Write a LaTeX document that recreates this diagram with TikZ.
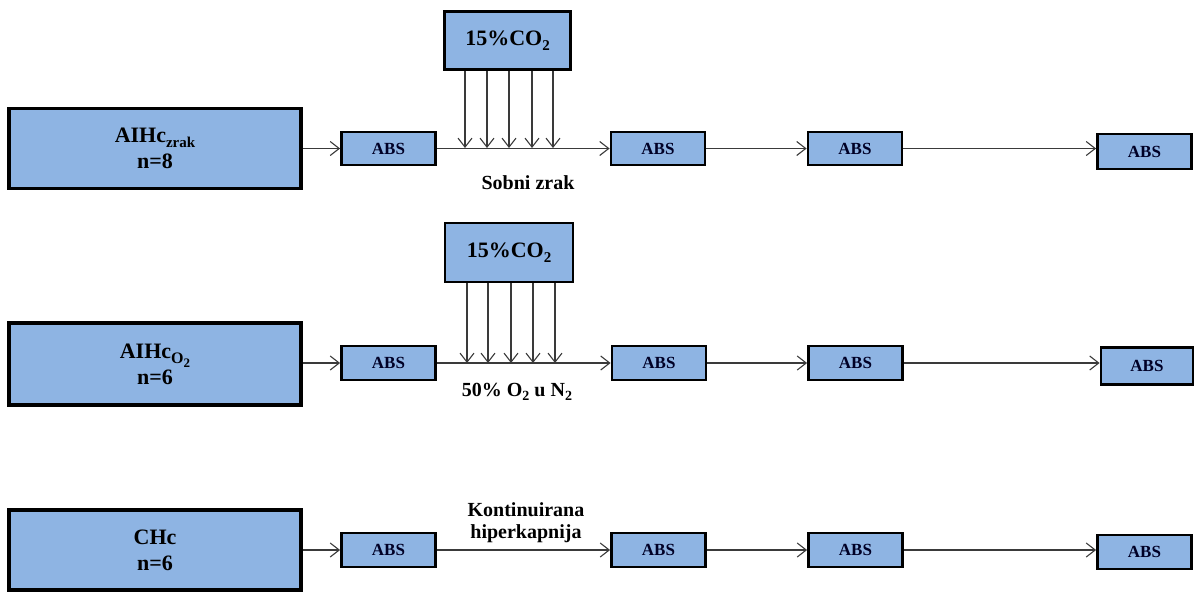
\documentclass[tikz,border=0pt]{standalone}
\usepackage{fontspec}
\setmainfont{Liberation Serif}
\usetikzlibrary{arrows.meta}
\definecolor{boxblue}{HTML}{8EB4E3}
\definecolor{linegray}{HTML}{3A3A3A}
\newcommand\lowsub[3]{\raisebox{-#1pt}{\fontsize{#2}{#2}\selectfont #3}}
\tikzset{
  bigbox/.style={draw=black,line width=3.2pt,fill=boxblue,minimum width=292pt,minimum height=80pt,inner sep=0pt,align=center,font=\fontsize{22}{26}\selectfont\bfseries},
  absbox/.style={draw=black,line width=2.8pt,fill=boxblue,minimum width=94pt,minimum height=33pt,inner sep=0pt,font=\fontsize{17}{19}\selectfont\bfseries,text=black!85!blue},
  gasbox/.style={draw=black,line width=2.8pt,fill=boxblue,minimum width=126pt,minimum height=58pt,inner sep=0pt,font=\fontsize{22}{25}\selectfont\bfseries},
  conn/.style={draw=linegray,line width=1.1pt,-{Straight Barb[length=9pt,width=14pt,line width=1.1pt]}},
  lbl/.style={font=\fontsize{20}{22}\selectfont\bfseries,align=center,inner sep=0pt}
}
\begin{document}
\begin{tikzpicture}[x=1pt,y=-1pt]
\useasboundingbox (0,0) rectangle (1195,592);
% ---------- Row 1
\node[bigbox] (g1) at (155,148.5) {AIHc\lowsub{5}{15}{zrak}\\n=8};
\node[absbox] (a11) at (388.5,148.5) {ABS};
\node[absbox] (a12) at (658,148.5) {ABS};
\node[absbox] (a13) at (855,148.5) {ABS};
\node[absbox,minimum height=35pt] (a14) at (1144.5,151.5) {ABS};
\node[gasbox] (c1) at (507.5,40.5) {15\%CO\lowsub{5}{15}{2}};
\draw[conn] (g1.east) -- (a11.west);
\draw[conn] (a11.east) -- (a12.west);
\draw[conn] (a12.east) -- (a13.west);
\draw[conn] (a13.east) -- (a13.east -| a14.west);
\foreach \x [count=\i] in {465,487,509,532,553}{
  \coordinate (t1\i) at (\x,148);
  \draw[conn] (c1.south -| t1\i) -- (t1\i);
}
\node[lbl] (l1) at (528,183) {Sobni zrak};
% ---------- Row 2
\node[bigbox,minimum height=82pt] (g2) at (155,364) {AIHc\lowsub{5}{16}{O\lowsub{4}{13}{2}}\\n=6};
\node[absbox,minimum height=34pt] (a21) at (388.5,363) {ABS};
\node[absbox,minimum height=34pt] (a22) at (659,363) {ABS};
\node[absbox,minimum height=34pt] (a23) at (855.5,363) {ABS};
\node[absbox,minimum width=92pt,minimum height=37pt] (a24) at (1147,366) {ABS};
\node[gasbox,minimum width=128pt,minimum height=59pt] (c2) at (509,252.5) {15\%CO\lowsub{5}{15}{2}};
\draw[conn] (g2.east |- a21.west) -- (a21.west);
\draw[conn] (a21.east) -- (a22.west);
\draw[conn] (a22.east) -- (a23.west);
\draw[conn] (a23.east) -- (a23.east -| a24.west);
\foreach \x [count=\i] in {467,488,511,533,555}{
  \coordinate (t2\i) at (\x,363);
  \draw[conn] (c2.south -| t2\i) -- (t2\i);
}
\node[lbl] (l2) at (517,392) {50\% O\lowsub{4}{14}{2} u N\lowsub{4}{14}{2}};
% ---------- Row 3
\node[bigbox] (g3) at (155,550) {CHc\\n=6};
\node[absbox,minimum height=34pt] (a31) at (388.5,550) {ABS};
\node[absbox,minimum height=34pt] (a32) at (658.5,550) {ABS};
\node[absbox,minimum height=34pt] (a33) at (855.5,550) {ABS};
\node[absbox,minimum height=34pt] (a34) at (1144.5,552) {ABS};
\draw[conn] (g3.east) -- (a31.west);
\draw[conn] (a31.east) -- (a32.west);
\draw[conn] (a32.east) -- (a33.west);
\draw[conn] (a33.east) -- (a33.east -| a34.west);
\node[lbl,font=\fontsize{20}{22}\selectfont\bfseries] (l3) at (526,523) {Kontinuirana\\hiperkapnija};
\end{tikzpicture}
\end{document}
